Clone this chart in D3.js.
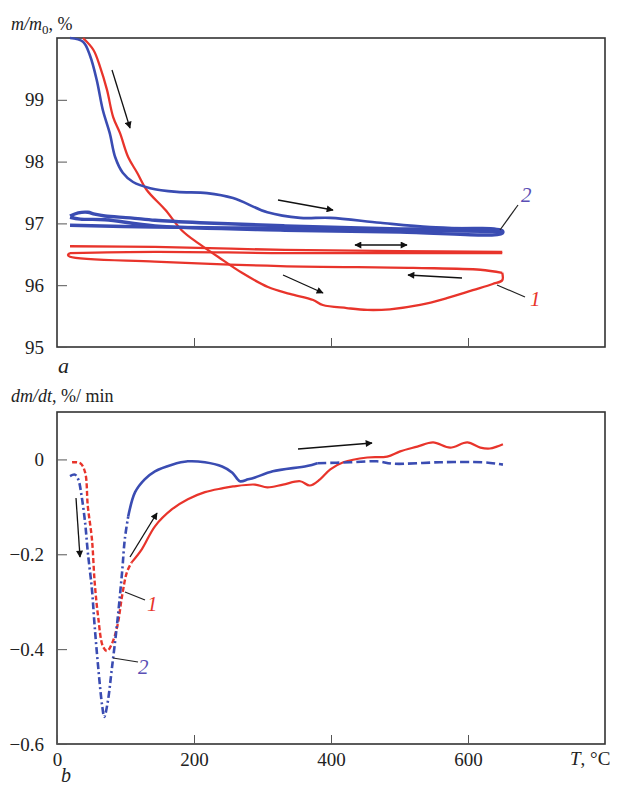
<!DOCTYPE html>
<html>
<head>
<meta charset="utf-8">
<script src="https://cdn.jsdelivr.net/npm/d3@7"></script>
<style>
  body { margin: 0; background: #fff; }
  #chart text { font-family: "Liberation Serif", "DejaVu Serif", "Times New Roman", serif !important; }
</style>
</head>
<body>
<svg id="chart" width="622" height="789"></svg>
<script>
// ---- data: panel a, m/m0 (%), [T, value]
const redHeat1 = [[38,100.0],[53,99.81],[63,99.53],[73,99.16],[82,98.72],[92,98.46],[104,98.07],[117,97.82],[131,97.54],
  [158,97.22],[182,96.89],[206,96.68],[235,96.46],[270,96.2],[308,95.97],[340,95.86],[374,95.76],[388,95.68],
  [423,95.63],[453,95.6],[486,95.61],[530,95.68],[569,95.79],[607,95.92],[636,96.02],[650,96.08],[650,96.2]];
const redCool1 = [[650,96.2],[618,96.25],[520,96.28],[326,96.31],[143,96.38],[19,96.46],[16,96.49],[19,96.52]];
const redHeat2 = [[19,96.52],[143,96.54],[333,96.52],[500,96.52],[650,96.52]];
const redCool2 = [[650,96.54],[500,96.55],[333,96.57],[143,96.62],[19,96.63]];

const blueHeat1 = [[19,100.0],[38,99.94],[48,99.72],[58,99.32],[67,98.83],[77,98.46],[85,98.07],[96,97.82],[111,97.67],
  [136,97.57],[175,97.51],[219,97.49],[257,97.41],[307,97.18],[355,97.09],[399,97.09],[472,97.01],[545,96.94],[618,96.91],[650,96.89]];
const blueCool1 = [[650,96.87],[501,96.89],[333,96.92],[143,96.94],[19,96.97]];
const blueCycle2 = [[19,97.12],[31,97.17],[45,97.18],[55,97.15],[70,97.12],[107,97.09],[143,97.05],[209,97.01],[333,96.96],
  [501,96.91],[650,96.88],[650,96.84],[501,96.86],[333,96.89],[143,96.96],[70,97.06],[34,97.07],[19,97.1]];

// ---- data: panel b, dm/dt (%/min), [T, value]
const redDip = [[22,-0.006],[34,-0.008],[41,-0.027],[45,-0.099],[51,-0.168],[55,-0.259],[60,-0.331],[67,-0.394],[73,-0.404],
  [80,-0.389],[88,-0.352],[95,-0.288],[102,-0.238],[109,-0.217]];
const redRise = [[109,-0.217],[124,-0.189],[143,-0.141],[168,-0.105],[191,-0.084],[216,-0.069],[241,-0.061],[257,-0.057],
  [289,-0.053],[307,-0.059],[330,-0.053],[355,-0.046],[369,-0.055],[384,-0.042],[399,-0.021],[418,-0.006],[453,0.004],
  [482,0.006],[501,0.017],[526,0.027],[549,0.036],[574,0.025],[599,0.036],[618,0.025],[632,0.023],[642,0.027],[651,0.032]];
const blueDip = [[19,-0.035],[26,-0.032],[31,-0.042],[36,-0.078],[41,-0.133],[45,-0.196],[51,-0.274],[55,-0.352],[60,-0.436],
  [66,-0.52],[69,-0.543],[74,-0.512],[80,-0.442],[88,-0.343],[95,-0.238],[99,-0.168],[104,-0.12]];
const blueRise = [[104,-0.12],[114,-0.069],[128,-0.042],[143,-0.025],[168,-0.011],[191,-0.004],[216,-0.006],[241,-0.015],
  [256,-0.028],[267,-0.046],[279,-0.042],[289,-0.038],[315,-0.025],[365,-0.014],[380,-0.008]];
const blueTail = [[380,-0.008],[428,-0.006],[467,-0.004],[491,-0.009],[559,-0.006],[622,-0.006],[642,-0.009],[651,-0.011]];

const xTicksA = [200, 400, 600];
const yTicksA = [95, 96, 97, 98, 99];
const xTicksB = [0, 200, 400, 600];
const yTicksB = [-0.6, -0.4, -0.2, 0];

const red = "#e8342b", blue = "#3a4cb2", labelBlue = "#5b4fb5";

const svg = d3.select("#chart");

svg.append("defs").append("marker")
  .attr("id", "arr")
  .attr("viewBox", "0 0 10 10")
  .attr("refX", 9).attr("refY", 5)
  .attr("markerWidth", 9).attr("markerHeight", 7)
  .attr("markerUnits", "userSpaceOnUse")
  .attr("orient", "auto-start-reverse")
  .append("path").attr("d", "M0,0 L10,5 L0,10 z").attr("fill", "#111");

const x = d3.scaleLinear().domain([0, 800]).range([57, 605]);
const yA = d3.scaleLinear().domain([95, 100]).range([347, 38]);
const yB = d3.scaleLinear().domain([-0.6, 0.1]).range([744, 412]);

function frame(y0, y1) {
  svg.append("rect")
    .attr("x", 57).attr("y", y0).attr("width", 605 - 57).attr("height", y1 - y0)
    .attr("fill", "none").attr("stroke", "#333").attr("stroke-width", 1.6);
}

function axes(yScale, yTicks, yFmt, xTicks, xFmt, bottom) {
  const gy = svg.append("g").attr("transform", "translate(57,0)")
    .call(d3.axisLeft(yScale).tickValues(yTicks).tickSize(-10).tickPadding(13).tickFormat(yFmt));
  gy.attr("font-family", null).attr("font-size", 19);
  gy.select(".domain").remove();
  gy.selectAll("line").attr("stroke", "#555");
  gy.selectAll("text").attr("fill", "#222");

  const gx = svg.append("g").attr("transform", `translate(0,${bottom})`)
    .call(d3.axisBottom(x).tickValues(xTicks).tickSize(-9).tickPadding(9).tickFormat(xFmt));
  gx.attr("font-family", null).attr("font-size", 19);
  gx.select(".domain").remove();
  gx.selectAll("line").attr("stroke", "#555");
  gx.selectAll("text").attr("fill", "#222");
}

// panel a
frame(38, 347);
axes(yA, yTicksA, d => d, xTicksA, () => "", 347);

const lineA = d3.line().x(d => x(d[0])).y(d => yA(d[1])).curve(d3.curveCatmullRom.alpha(0.5));
const lineB = d3.line().x(d => x(d[0])).y(d => yB(d[1])).curve(d3.curveCatmullRom.alpha(0.5));

function draw(line, data, color, width, dash) {
  svg.append("path").attr("d", line(data))
    .attr("fill", "none").attr("stroke", color).attr("stroke-width", width)
    .attr("stroke-linejoin", "round").attr("stroke-dasharray", dash || null);
}

[redCool2, redHeat2, redCool1, redHeat1].forEach(s => draw(lineA, s, red, 2.3));
[blueCool1, blueCycle2].forEach(s => draw(lineA, s, blue, 3.4));
draw(lineA, blueHeat1, blue, 2.6);

// panel b
frame(412, 744);
const minus = d => d === 0 ? "0" : d3.format(".1f")(d).replace("-", "\u2013");
axes(yB, yTicksB, minus, xTicksB, d => d, 744);

draw(lineB, redRise, red, 2.2);
draw(lineB, redDip, red, 2.4, "5,2.5");
draw(lineB, blueRise, blue, 2.6);
draw(lineB, blueDip, blue, 2.6, "7,3,2,3");
draw(lineB, blueTail, blue, 2.6, "9,4");

// arrows and leader lines
const arrows = [
  [112, 70, 130, 128], [278, 200, 333, 210], [462, 278, 408, 275], [283, 275, 323, 293],
  [76, 498, 80, 557], [130, 557, 157, 513], [298, 449, 372, 443]
];
arrows.forEach(a => svg.append("line")
  .attr("x1", a[0]).attr("y1", a[1]).attr("x2", a[2]).attr("y2", a[3])
  .attr("stroke", "#111").attr("stroke-width", 1.3).attr("marker-end", "url(#arr)"));

svg.append("line").attr("x1", 355).attr("y1", 245).attr("x2", 407).attr("y2", 245)
  .attr("stroke", "#111").attr("stroke-width", 1.3)
  .attr("marker-start", "url(#arr)").attr("marker-end", "url(#arr)");

const leaders = [[518, 205, 500, 230], [525, 297, 497, 285], [125, 592, 145, 600], [113, 658, 138, 662]];
leaders.forEach(l => svg.append("line")
  .attr("x1", l[0]).attr("y1", l[1]).attr("x2", l[2]).attr("y2", l[3])
  .attr("stroke", "#222").attr("stroke-width", 1.2));

// labels
function label(tx, ty, txt, color, size, italic) {
  return svg.append("text").attr("x", tx).attr("y", ty).text(txt)
    .attr("font-size", size)
    .attr("fill", color).attr("font-style", italic ? "italic" : null);
}
label(521, 202, "2", labelBlue, 21, true);
label(530, 306, "1", red, 21, true);
label(147, 611, "1", red, 21, true);
label(138, 674, "2", labelBlue, 21, true);
label(58, 373, "a", "#222", 22, true);
label(61, 782, "b", "#222", 20, true);

const tA = svg.append("text").attr("x", 11).attr("y", 30)
  .attr("font-size", 18).attr("fill", "#222");
tA.append("tspan").attr("font-style", "italic").text("m/m");
tA.append("tspan").attr("font-size", 13).attr("dy", 4).text("0");
tA.append("tspan").attr("dy", -4).text(", %");

const tB = svg.append("text").attr("x", 11).attr("y", 402)
  .attr("font-size", 18).attr("fill", "#222");
tB.append("tspan").attr("font-style", "italic").text("dm/dt");
tB.append("tspan").text(", %/ min");

const tT = svg.append("text").attr("x", 570).attr("y", 765)
  .attr("font-size", 19).attr("fill", "#222");
tT.append("tspan").attr("font-style", "italic").text("T");
tT.append("tspan").text(", °C");
</script>
</body>
</html>
